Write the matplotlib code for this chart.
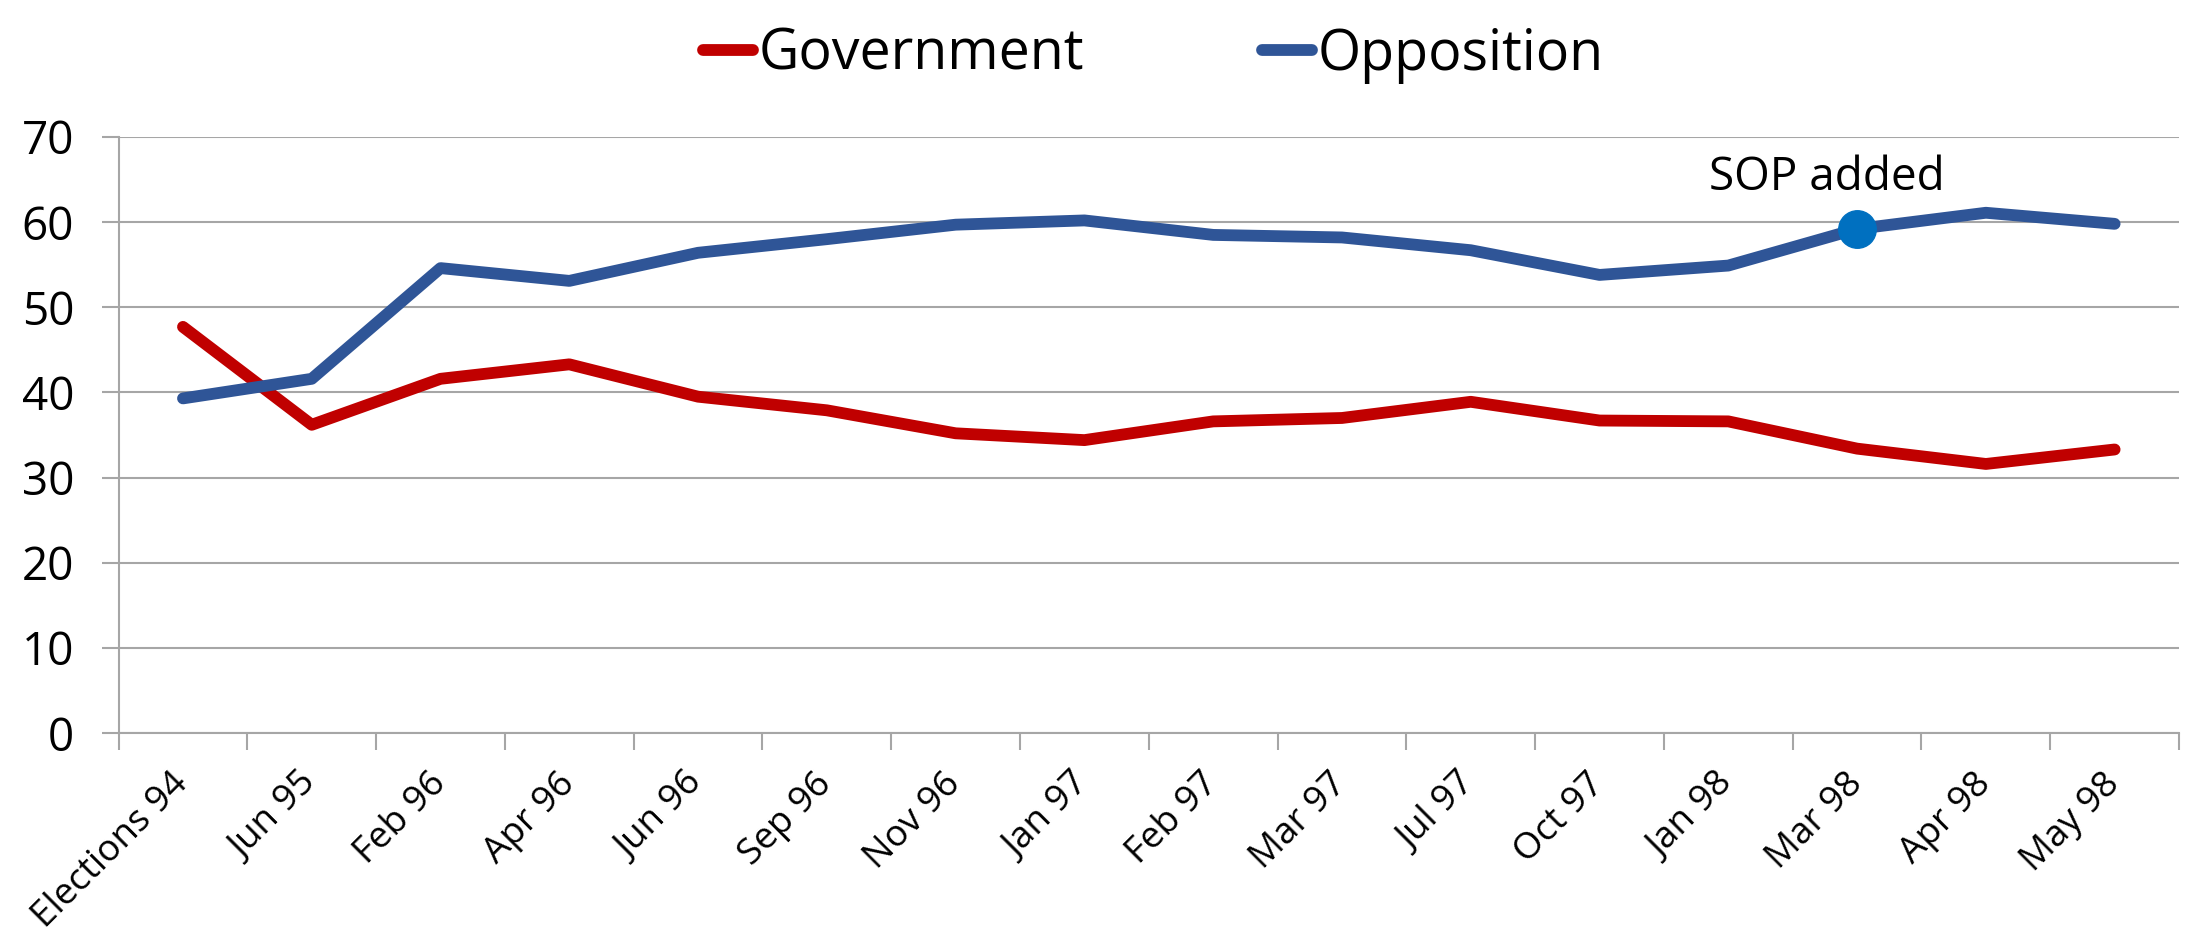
import matplotlib.pyplot as plt
import numpy as np

categories = ["Elections 94", "Jun 95", "Feb 96", "Apr 96", "Jun 96", "Sep 96",
              "Nov 96", "Jan 97", "Feb 97", "Mar 97", "Jul 97", "Oct 97",
              "Jan 98", "Mar 98", "Apr 98", "May 98"]
government = [47.7, 36.2, 41.6, 43.3, 39.5, 37.9, 35.2, 34.4, 36.6, 37.0,
              38.9, 36.7, 36.6, 33.4, 31.6, 33.3]
opposition = [39.3, 41.6, 54.6, 53.1, 56.4, 58.0, 59.7, 60.2, 58.5, 58.2,
              56.7, 53.8, 54.9, 59.2, 61.1, 59.8]
sop_index = 13

plt.rcParams['font.family'] = ['Open Sans', 'DejaVu Sans']

fig = plt.figure(figsize=(21.88, 9.35), dpi=100)
ax = fig.add_axes([0.0542, 0.216, 0.9417, 0.6375])

x = np.arange(len(categories))
ax.plot(x, government, color="#C00000", lw=8.5, solid_capstyle="round",
        solid_joinstyle="round", label="Government")
ax.plot(x, opposition, color="#2F5597", lw=8.5, solid_capstyle="round",
        solid_joinstyle="round", label="Opposition")
ax.plot(x[sop_index], opposition[sop_index], "o", color="#0070C0", ms=27,
        zorder=5)
ax.annotate("SOP added", (x[sop_index], opposition[sop_index]),
            xytext=(-22, 20), textcoords="offset points", ha="center",
            va="bottom", fontsize=33)

ax.set_xlim(-0.5, len(categories) - 0.5)
ax.set_ylim(0, 70)
ax.set_yticks(range(0, 71, 10))
ax.yaxis.grid(True, color="#A6A6A6", lw=1.5)
ax.set_axisbelow(True)
for s in ["top", "right"]:
    ax.spines[s].set_visible(False)
for s in ["left", "bottom"]:
    ax.spines[s].set_color("#A6A6A6")
    ax.spines[s].set_linewidth(1.5)

ax.set_xticks(np.arange(len(categories) + 1) - 0.5)
ax.set_xticklabels([])
ax.set_xticks(x, minor=True)
ax.set_xticklabels(categories, minor=True, rotation=45, ha="right",
                   va="center", rotation_mode="anchor", fontsize=26.5)
ax.tick_params(axis="x", which="major", length=12, width=1.5, color="#A6A6A6")
ax.tick_params(axis="x", which="minor", length=0, pad=33)
ax.tick_params(axis="y", length=12, width=1.5, color="#A6A6A6", labelsize=33,
               pad=20)

fig.legend(loc="upper center", bbox_to_anchor=(0.527, 1.025), ncol=2,
           frameon=False, fontsize=40, handlelength=0.9, handletextpad=0.1,
           columnspacing=3.2)

fig.savefig("out.png", dpi=100)
